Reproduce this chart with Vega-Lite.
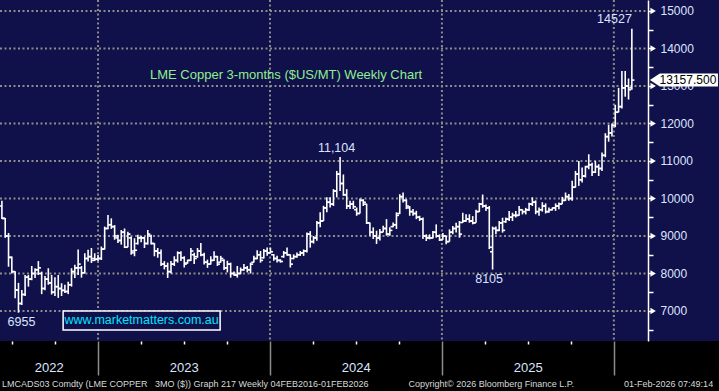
{
"$schema": "https://vega.github.io/schema/vega-lite/v6.json",
"width": 719, "height": 341,
"autosize": "none",
"padding": {"left": 0, "top": 0, "right": 0, "bottom": 50},
"background": "#000000",
"config": {"view": {"fill": "#10104a", "stroke": null}, "text": {"font": "Liberation Sans"}},
"title": {"text": "LMCADS03 Comdty (LME COPPER\u00a0\u00a0\u00a03MO ($)) Graph 217 Weekly 04FEB2016-01FEB2026\u00a0\u00a0\u00a0\u00a0\u00a0\u00a0\u00a0\u00a0\u00a0\u00a0\u00a0\u00a0\u00a0\u00a0\u00a0\u00a0Copyright\u00a9 2026 Bloomberg Finance L.P.\u00a0\u00a0\u00a0\u00a0\u00a0\u00a0\u00a0\u00a0\u00a0\u00a0\u00a0\u00a0\u00a0\u00a0\u00a0\u00a0\u00a0\u00a0\u00a0\u00a001-Feb-2026 07:49:14", "orient": "bottom", "anchor": "start", "frame": "group", "offset": 4, "dx": 2, "color": "#d8d8d8", "font": "Liberation Sans", "fontSize": 9, "fontWeight": "normal"},
"datasets": {
"levels": [{"g":7000},{"g":8000},{"g":9000},{"g":10000},{"g":11000},{"g":12000},{"g":13000},{"g":14000},{"g":15000}],
"dividers": [{"d":"2022-12-30"},{"d":"2023-12-28"},{"d":"2024-12-25"},{"d":"2025-12-23"}],
"notes": [{"d":"2026-01-30","v":14527,"t":"14527"},{"d":"2024-05-24","v":11104,"t":"11,104"},{"d":"2025-04-11","v":8105,"t":"8105"},{"d":"2022-07-15","v":6955,"t":"6955"}],
"last": [{"v":13157.5}],
"ohlc": [
{"d":"2022-06-10","o":9800,"h":9940,"l":9450,"c":9470},
{"d":"2022-06-17","o":9470,"h":9480,"l":8950,"c":9000},
{"d":"2022-06-24","o":9000,"h":9080,"l":8180,"c":8430},
{"d":"2022-07-01","o":8430,"h":8450,"l":8000,"c":8050},
{"d":"2022-07-08","o":8050,"h":8060,"l":7340,"c":7560},
{"d":"2022-07-15","o":7560,"h":7750,"l":6955,"c":7200},
{"d":"2022-07-22","o":7200,"h":7560,"l":7160,"c":7440},
{"d":"2022-07-29","o":7440,"h":7960,"l":7400,"c":7900},
{"d":"2022-08-05","o":7900,"h":7960,"l":7650,"c":7850},
{"d":"2022-08-12","o":7850,"h":8200,"l":7820,"c":8000},
{"d":"2022-08-19","o":8000,"h":8140,"l":7880,"c":8100},
{"d":"2022-08-26","o":8100,"h":8330,"l":7960,"c":8150},
{"d":"2022-09-02","o":8000,"h":8050,"l":7450,"c":7600},
{"d":"2022-09-09","o":7600,"h":7930,"l":7550,"c":7850},
{"d":"2022-09-16","o":7850,"h":8140,"l":7700,"c":7750},
{"d":"2022-09-23","o":7750,"h":7960,"l":7440,"c":7500},
{"d":"2022-09-30","o":7500,"h":7900,"l":7400,"c":7650},
{"d":"2022-10-07","o":7650,"h":7960,"l":7350,"c":7600},
{"d":"2022-10-14","o":7600,"h":7740,"l":7400,"c":7550},
{"d":"2022-10-21","o":7550,"h":7700,"l":7480,"c":7520},
{"d":"2022-10-28","o":7520,"h":7780,"l":7450,"c":7700},
{"d":"2022-11-04","o":7700,"h":8140,"l":7650,"c":8050},
{"d":"2022-11-11","o":8050,"h":8230,"l":7880,"c":8150},
{"d":"2022-11-18","o":8150,"h":8640,"l":7960,"c":8250},
{"d":"2022-11-25","o":8150,"h":8200,"l":7890,"c":8020},
{"d":"2022-12-02","o":8020,"h":8540,"l":8000,"c":8400},
{"d":"2022-12-09","o":8400,"h":8630,"l":8320,"c":8450},
{"d":"2022-12-16","o":8450,"h":8680,"l":8280,"c":8350},
{"d":"2022-12-23","o":8400,"h":8540,"l":8330,"c":8380},
{"d":"2022-12-30","o":8380,"h":8500,"l":8330,"c":8400},
{"d":"2023-01-06","o":8400,"h":8720,"l":8360,"c":8650},
{"d":"2023-01-13","o":8650,"h":9250,"l":8640,"c":9200},
{"d":"2023-01-20","o":9200,"h":9560,"l":9180,"c":9300},
{"d":"2023-01-27","o":9300,"h":9470,"l":9190,"c":9250},
{"d":"2023-02-03","o":9250,"h":9290,"l":8900,"c":9000},
{"d":"2023-02-10","o":8950,"h":9030,"l":8810,"c":8880},
{"d":"2023-02-17","o":8880,"h":9160,"l":8770,"c":9100},
{"d":"2023-02-24","o":9100,"h":9200,"l":8680,"c":8700},
{"d":"2023-03-03","o":8700,"h":9110,"l":8700,"c":9050},
{"d":"2023-03-10","o":8950,"h":8980,"l":8500,"c":8550},
{"d":"2023-03-17","o":8600,"h":8940,"l":8460,"c":8620},
{"d":"2023-03-24","o":8800,"h":9030,"l":8770,"c":8950},
{"d":"2023-03-31","o":8950,"h":9000,"l":8830,"c":8950},
{"d":"2023-04-07","o":8950,"h":8980,"l":8680,"c":8800},
{"d":"2023-04-14","o":8800,"h":9160,"l":8770,"c":9050},
{"d":"2023-04-21","o":9000,"h":9030,"l":8770,"c":8800},
{"d":"2023-04-28","o":8800,"h":8810,"l":8460,"c":8600},
{"d":"2023-05-05","o":8600,"h":8680,"l":8420,"c":8550},
{"d":"2023-05-12","o":8550,"h":8640,"l":8200,"c":8250},
{"d":"2023-05-19","o":8250,"h":8330,"l":8110,"c":8200},
{"d":"2023-05-26","o":8200,"h":8290,"l":7880,"c":8050},
{"d":"2023-06-02","o":8050,"h":8330,"l":8000,"c":8250},
{"d":"2023-06-09","o":8250,"h":8460,"l":8200,"c":8350},
{"d":"2023-06-16","o":8350,"h":8590,"l":8290,"c":8550},
{"d":"2023-06-23","o":8550,"h":8590,"l":8330,"c":8420},
{"d":"2023-06-30","o":8420,"h":8460,"l":8160,"c":8250},
{"d":"2023-07-07","o":8280,"h":8370,"l":8260,"c":8350},
{"d":"2023-07-14","o":8350,"h":8680,"l":8330,"c":8600},
{"d":"2023-07-21","o":8500,"h":8550,"l":8250,"c":8400},
{"d":"2023-07-28","o":8450,"h":8680,"l":8420,"c":8600},
{"d":"2023-08-04","o":8600,"h":8810,"l":8460,"c":8500},
{"d":"2023-08-11","o":8500,"h":8550,"l":8240,"c":8300},
{"d":"2023-08-18","o":8300,"h":8370,"l":8150,"c":8250},
{"d":"2023-08-25","o":8250,"h":8460,"l":8240,"c":8350},
{"d":"2023-09-01","o":8350,"h":8590,"l":8330,"c":8450},
{"d":"2023-09-08","o":8450,"h":8470,"l":8200,"c":8250},
{"d":"2023-09-15","o":8300,"h":8470,"l":8290,"c":8400},
{"d":"2023-09-22","o":8350,"h":8380,"l":8090,"c":8150},
{"d":"2023-09-29","o":8150,"h":8340,"l":8030,"c":8250},
{"d":"2023-10-06","o":8250,"h":8290,"l":7890,"c":8000},
{"d":"2023-10-13","o":8000,"h":8050,"l":7940,"c":7960},
{"d":"2023-10-20","o":7960,"h":8200,"l":7890,"c":8000},
{"d":"2023-10-27","o":8000,"h":8160,"l":7980,"c":8100},
{"d":"2023-11-03","o":8100,"h":8250,"l":8070,"c":8150},
{"d":"2023-11-10","o":8150,"h":8200,"l":8030,"c":8100},
{"d":"2023-11-17","o":8100,"h":8290,"l":8000,"c":8250},
{"d":"2023-11-24","o":8300,"h":8470,"l":8290,"c":8400},
{"d":"2023-12-01","o":8400,"h":8620,"l":8380,"c":8500},
{"d":"2023-12-08","o":8500,"h":8600,"l":8290,"c":8350},
{"d":"2023-12-15","o":8420,"h":8650,"l":8400,"c":8600},
{"d":"2023-12-22","o":8600,"h":8690,"l":8470,"c":8550},
{"d":"2023-12-29","o":8550,"h":8690,"l":8540,"c":8580},
{"d":"2024-01-05","o":8500,"h":8520,"l":8340,"c":8400},
{"d":"2024-01-12","o":8400,"h":8470,"l":8290,"c":8350},
{"d":"2024-01-19","o":8350,"h":8380,"l":8290,"c":8320},
{"d":"2024-01-26","o":8450,"h":8600,"l":8420,"c":8550},
{"d":"2024-02-02","o":8550,"h":8690,"l":8470,"c":8500},
{"d":"2024-02-09","o":8500,"h":8510,"l":8160,"c":8250},
{"d":"2024-02-16","o":8400,"h":8510,"l":8380,"c":8450},
{"d":"2024-02-23","o":8450,"h":8560,"l":8420,"c":8500},
{"d":"2024-03-01","o":8500,"h":8600,"l":8470,"c":8550},
{"d":"2024-03-08","o":8550,"h":8640,"l":8470,"c":8600},
{"d":"2024-03-15","o":8600,"h":9090,"l":8560,"c":9050},
{"d":"2024-03-22","o":9050,"h":9130,"l":8690,"c":8850},
{"d":"2024-03-29","o":8850,"h":9000,"l":8800,"c":8950},
{"d":"2024-04-05","o":8950,"h":9400,"l":8870,"c":9350},
{"d":"2024-04-12","o":9350,"h":9630,"l":9230,"c":9400},
{"d":"2024-04-19","o":9400,"h":9805,"l":9400,"c":9750},
{"d":"2024-04-26","o":9750,"h":10030,"l":9630,"c":9900},
{"d":"2024-05-03","o":9900,"h":10030,"l":9760,"c":9850},
{"d":"2024-05-10","o":9850,"h":10250,"l":9800,"c":10200},
{"d":"2024-05-17","o":10200,"h":10735,"l":10030,"c":10650},
{"d":"2024-05-24","o":10650,"h":11104,"l":10200,"c":10400},
{"d":"2024-05-31","o":10400,"h":10640,"l":10070,"c":10100},
{"d":"2024-06-07","o":10100,"h":10250,"l":9720,"c":9800},
{"d":"2024-06-14","o":9800,"h":9940,"l":9720,"c":9850},
{"d":"2024-06-21","o":9850,"h":9940,"l":9720,"c":9780},
{"d":"2024-06-28","o":9700,"h":9760,"l":9540,"c":9600},
{"d":"2024-07-05","o":9600,"h":10000,"l":9600,"c":9950},
{"d":"2024-07-12","o":9950,"h":9980,"l":9800,"c":9900},
{"d":"2024-07-19","o":9850,"h":9860,"l":9320,"c":9350},
{"d":"2024-07-26","o":9350,"h":9363,"l":9009,"c":9100},
{"d":"2024-08-02","o":9100,"h":9230,"l":8920,"c":9000},
{"d":"2024-08-09","o":9000,"h":9141,"l":8788,"c":8950},
{"d":"2024-08-16","o":8950,"h":9186,"l":8880,"c":9100},
{"d":"2024-08-23","o":9100,"h":9270,"l":9100,"c":9200},
{"d":"2024-08-30","o":9200,"h":9450,"l":9009,"c":9050},
{"d":"2024-09-06","o":9050,"h":9230,"l":9009,"c":9150},
{"d":"2024-09-13","o":9250,"h":9363,"l":9230,"c":9300},
{"d":"2024-09-20","o":9300,"h":9630,"l":9186,"c":9550},
{"d":"2024-09-27","o":9600,"h":10115,"l":9584,"c":10050},
{"d":"2024-10-04","o":10050,"h":10160,"l":9894,"c":9950},
{"d":"2024-10-11","o":9950,"h":9980,"l":9717,"c":9800},
{"d":"2024-10-18","o":9750,"h":9800,"l":9540,"c":9650},
{"d":"2024-10-25","o":9650,"h":9717,"l":9540,"c":9600},
{"d":"2024-11-01","o":9600,"h":9672,"l":9450,"c":9500},
{"d":"2024-11-08","o":9500,"h":9540,"l":9400,"c":9450},
{"d":"2024-11-15","o":9450,"h":9495,"l":8920,"c":9000},
{"d":"2024-11-22","o":9000,"h":9044,"l":8867,"c":8950},
{"d":"2024-11-29","o":8950,"h":9044,"l":8910,"c":8950},
{"d":"2024-12-06","o":8950,"h":9130,"l":8930,"c":9100},
{"d":"2024-12-13","o":9100,"h":9310,"l":8956,"c":9000},
{"d":"2024-12-20","o":9000,"h":9044,"l":8867,"c":8900},
{"d":"2024-12-27","o":8900,"h":9080,"l":8900,"c":9000},
{"d":"2025-01-03","o":9000,"h":9000,"l":8780,"c":8850},
{"d":"2025-01-10","o":8850,"h":9177,"l":8850,"c":9100},
{"d":"2025-01-17","o":9100,"h":9265,"l":9044,"c":9200},
{"d":"2025-01-24","o":9200,"h":9354,"l":9090,"c":9250},
{"d":"2025-01-31","o":9250,"h":9400,"l":8956,"c":9050},
{"d":"2025-02-07","o":9360,"h":9620,"l":9350,"c":9400},
{"d":"2025-02-14","o":9400,"h":9580,"l":9380,"c":9450},
{"d":"2025-02-21","o":9450,"h":9580,"l":9354,"c":9400},
{"d":"2025-02-28","o":9400,"h":9530,"l":9310,"c":9350},
{"d":"2025-03-07","o":9350,"h":9700,"l":9350,"c":9650},
{"d":"2025-03-14","o":9650,"h":9885,"l":9640,"c":9850},
{"d":"2025-03-21","o":9850,"h":10106,"l":9752,"c":9800},
{"d":"2025-03-28","o":9800,"h":9840,"l":9664,"c":9750},
{"d":"2025-04-04","o":9750,"h":9800,"l":8650,"c":8700},
{"d":"2025-04-11","o":8580,"h":9250,"l":8105,"c":9200},
{"d":"2025-04-18","o":9200,"h":9250,"l":9044,"c":9150},
{"d":"2025-04-25","o":9150,"h":9400,"l":9130,"c":9350},
{"d":"2025-05-02","o":9350,"h":9487,"l":9090,"c":9150},
{"d":"2025-05-09","o":9380,"h":9490,"l":9350,"c":9450},
{"d":"2025-05-16","o":9450,"h":9664,"l":9400,"c":9500},
{"d":"2025-05-23","o":9500,"h":9620,"l":9400,"c":9550},
{"d":"2025-05-30","o":9550,"h":9664,"l":9490,"c":9550},
{"d":"2025-06-06","o":9550,"h":9800,"l":9540,"c":9700},
{"d":"2025-06-13","o":9700,"h":9710,"l":9575,"c":9650},
{"d":"2025-06-20","o":9650,"h":9750,"l":9575,"c":9700},
{"d":"2025-06-27","o":9700,"h":9885,"l":9664,"c":9850},
{"d":"2025-07-04","o":9850,"h":10030,"l":9800,"c":9900},
{"d":"2025-07-11","o":9900,"h":9950,"l":9580,"c":9650},
{"d":"2025-07-18","o":9650,"h":9760,"l":9540,"c":9700},
{"d":"2025-07-25","o":9700,"h":9900,"l":9650,"c":9800},
{"d":"2025-08-01","o":9800,"h":9870,"l":9600,"c":9650},
{"d":"2025-08-08","o":9650,"h":9760,"l":9620,"c":9700},
{"d":"2025-08-15","o":9700,"h":9760,"l":9680,"c":9750},
{"d":"2025-08-22","o":9750,"h":9870,"l":9670,"c":9800},
{"d":"2025-08-29","o":9800,"h":9890,"l":9710,"c":9850},
{"d":"2025-09-05","o":9850,"h":10044,"l":9850,"c":9950},
{"d":"2025-09-12","o":9950,"h":10160,"l":9938,"c":10050},
{"d":"2025-09-19","o":10050,"h":10120,"l":9938,"c":10000},
{"d":"2025-09-26","o":10000,"h":10470,"l":9940,"c":10300},
{"d":"2025-10-03","o":10300,"h":10736,"l":10290,"c":10650},
{"d":"2025-10-10","o":10650,"h":11000,"l":10337,"c":10500},
{"d":"2025-10-17","o":10500,"h":10825,"l":10426,"c":10600},
{"d":"2025-10-24","o":10600,"h":10870,"l":10560,"c":10850},
{"d":"2025-10-31","o":10850,"h":11180,"l":10780,"c":10900},
{"d":"2025-11-07","o":10900,"h":10950,"l":10600,"c":10700},
{"d":"2025-11-14","o":10700,"h":11000,"l":10680,"c":10850},
{"d":"2025-11-21","o":10850,"h":10914,"l":10600,"c":10800},
{"d":"2025-11-28","o":10800,"h":11224,"l":10736,"c":11150},
{"d":"2025-12-05","o":11150,"h":11740,"l":11100,"c":11650},
{"d":"2025-12-12","o":11650,"h":11966,"l":11515,"c":11750},
{"d":"2025-12-19","o":11750,"h":12000,"l":11650,"c":11950},
{"d":"2025-12-26","o":11950,"h":12500,"l":11900,"c":12300},
{"d":"2026-01-02","o":12300,"h":12950,"l":12300,"c":12450},
{"d":"2026-01-09","o":12450,"h":13400,"l":12400,"c":12950},
{"d":"2026-01-16","o":12950,"h":13400,"l":12715,"c":13000},
{"d":"2026-01-23","o":13000,"h":13200,"l":12640,"c":12900},
{"d":"2026-01-30","o":12950,"h":14527,"l":12900,"c":13157.5}
]
},
"layer": [
{"data": {"name": "levels"},
 "mark": {"type": "rule", "color": "#8c8c8c", "strokeWidth": 2, "strokeDash": [2, 2.5]},
 "encoding": {
  "y": {"field": "g", "type": "quantitative", "scale": {"domain": [6200, 15293], "nice": false, "zero": false},
        "axis": {"orient": "right", "offset": -71, "title": null, "values": [7000,8000,9000,10000,11000,12000,13000,14000,15000],
                 "format": "d", "grid": false,
                 "domainColor": "#ffffff", "domainWidth": 1.5, "tickColor": "#ffffff", "tickWidth": 1.5, "tickSize": 5,
                 "labelPadding": 7, "labelColor": "#dde4ff", "labelFont": "Liberation Sans", "labelFontSize": 12, "labelBaseline": "middle", "labelAlign": "left", "labelOverlap": false, "labelBound": false, "labelFlush": false}},
  "x": {"datum": {"year": 2022, "month": 6, "date": 6, "utc": true}, "type": "temporal", "scale": {"type": "utc", "domain": [{"year": 2022, "month": 6, "date": 6, "utc": true}, {"year": 2026, "month": 8, "date": 2, "utc": true}]}, "axis": null},
  "x2": {"datum": {"year": 2026, "month": 3, "date": 5, "utc": true}}
 }},
{"data": {"name": "dividers"},
 "mark": {"type": "rule", "color": "#8c8c8c", "strokeWidth": 2, "strokeDash": [2, 2.5]},
 "encoding": {
  "x": {"field": "d", "type": "temporal", "scale": {"type": "utc", "domain": [{"year": 2022, "month": 6, "date": 6, "utc": true}, {"year": 2026, "month": 8, "date": 2, "utc": true}]},
        "axis": {"orient": "bottom", "title": null, "values": [{"year": 2022, "month": 12, "date": 30, "utc": true}, {"year": 2023, "month": 12, "date": 28, "utc": true}, {"year": 2024, "month": 12, "date": 25, "utc": true}, {"year": 2025, "month": 12, "date": 23, "utc": true}],
                 "labels": false, "domain": false, "grid": false, "ticks": true, "tickSize": 34, "tickColor": "#8c8c8c", "tickWidth": 1.5}}
 }},
{"data": {"name": "ohlc"},
 "mark": {"type": "rule", "color": "#ffffff", "strokeWidth": 1.6},
 "encoding": {
  "x": {"field": "d", "type": "temporal", "scale": {"type": "utc", "domain": [{"year": 2022, "month": 6, "date": 6, "utc": true}, {"year": 2026, "month": 8, "date": 2, "utc": true}]},
        "axis": {"orient": "bottom", "title": null, "values": [{"year": 2022, "month": 9, "date": 17, "utc": true}, {"year": 2023, "month": 6, "date": 29, "utc": true}, {"year": 2024, "month": 6, "date": 26, "utc": true}, {"year": 2025, "month": 6, "date": 24, "utc": true}],
                 "labelExpr": "utcFormat(datum.value, '%Y')", "ticks": false, "tickSize": 0, "domain": false, "grid": false, "labelPadding": 20,
                 "labelColor": "#dde4ff", "labelFont": "Liberation Sans", "labelFontSize": 13, "labelFlush": false, "labelOverlap": false, "labelBound": false}},
  "y": {"field": "l", "type": "quantitative", "scale": {"domain": [6200, 15293], "nice": false, "zero": false}, "axis": null},
  "y2": {"field": "h"}
 }},
{"data": {"name": "ohlc"},
 "mark": {"type": "tick", "orient": "horizontal", "color": "#ffffff", "size": 2.6, "thickness": 1.6, "xOffset": -1.3, "opacity": 1},
 "encoding": {
  "x": {"field": "d", "type": "temporal", "scale": {"type": "utc", "domain": [{"year": 2022, "month": 6, "date": 6, "utc": true}, {"year": 2026, "month": 8, "date": 2, "utc": true}]}, "axis": null},
  "y": {"field": "o", "type": "quantitative", "scale": {"domain": [6200, 15293], "nice": false, "zero": false}, "axis": null}
 }},
{"data": {"name": "ohlc"},
 "mark": {"type": "tick", "orient": "horizontal", "color": "#ffffff", "size": 2.6, "thickness": 1.6, "xOffset": 1.3, "opacity": 1},
 "encoding": {
  "x": {"field": "d", "type": "temporal", "scale": {"type": "utc", "domain": [{"year": 2022, "month": 6, "date": 6, "utc": true}, {"year": 2026, "month": 8, "date": 2, "utc": true}]}, "axis": null},
  "y": {"field": "c", "type": "quantitative", "scale": {"domain": [6200, 15293], "nice": false, "zero": false}, "axis": null}
 }},
{"data": {"name": "levels"},
 "mark": {"type": "point", "shape": "triangle-right", "filled": true, "color": "#ffffff", "size": 40, "opacity": 1},
 "encoding": {
  "x": {"datum": {"year": 2026, "month": 3, "date": 16, "utc": true}, "type": "temporal", "scale": {"type": "utc", "domain": [{"year": 2022, "month": 6, "date": 6, "utc": true}, {"year": 2026, "month": 8, "date": 2, "utc": true}]}, "axis": null},
  "y": {"field": "g", "type": "quantitative", "scale": {"domain": [6200, 15293], "nice": false, "zero": false},
        "axis": {"orient": "right", "offset": -71, "title": null, "values": [6500,7500,8500,9500,10500,11500,12500,13500,14500],
                 "labels": false, "domain": false, "grid": false, "ticks": true, "tickColor": "#ffffff", "tickWidth": 1.5, "tickSize": 5}}
 }},
{"data": {"name": "notes"},
 "transform": [{"filter": "datum.v == 14527"}],
 "mark": {"type": "text", "align": "right", "baseline": "alphabetic", "dx": 0, "dy": -6, "color": "#dde4ff", "fontSize": 12.5, "font": "Liberation Sans"},
 "encoding": {
  "x": {"field": "d", "type": "temporal", "scale": {"type": "utc", "domain": [{"year": 2022, "month": 6, "date": 6, "utc": true}, {"year": 2026, "month": 8, "date": 2, "utc": true}]}, "axis": null},
  "y": {"field": "v", "type": "quantitative", "scale": {"domain": [6200, 15293], "nice": false, "zero": false}, "axis": null},
  "text": {"field": "t"}
 }},
{"data": {"name": "notes"},
 "transform": [{"filter": "datum.v == 11104"}],
 "mark": {"type": "text", "align": "center", "baseline": "alphabetic", "dx": -3.5, "dy": -5.4, "color": "#dde4ff", "fontSize": 12.5, "font": "Liberation Sans"},
 "encoding": {
  "x": {"field": "d", "type": "temporal", "scale": {"type": "utc", "domain": [{"year": 2022, "month": 6, "date": 6, "utc": true}, {"year": 2026, "month": 8, "date": 2, "utc": true}]}, "axis": null},
  "y": {"field": "v", "type": "quantitative", "scale": {"domain": [6200, 15293], "nice": false, "zero": false}, "axis": null},
  "text": {"field": "t"}
 }},
{"data": {"name": "notes"},
 "transform": [{"filter": "datum.v == 8105"}],
 "mark": {"type": "text", "align": "center", "baseline": "top", "dx": -3.5, "dy": 3.5, "color": "#dde4ff", "fontSize": 12.5, "font": "Liberation Sans"},
 "encoding": {
  "x": {"field": "d", "type": "temporal", "scale": {"type": "utc", "domain": [{"year": 2022, "month": 6, "date": 6, "utc": true}, {"year": 2026, "month": 8, "date": 2, "utc": true}]}, "axis": null},
  "y": {"field": "v", "type": "quantitative", "scale": {"domain": [6200, 15293], "nice": false, "zero": false}, "axis": null},
  "text": {"field": "t"}
 }},
{"data": {"name": "notes"},
 "transform": [{"filter": "datum.v == 6955"}],
 "mark": {"type": "text", "align": "center", "baseline": "top", "dx": 3, "dy": 3, "color": "#dde4ff", "fontSize": 12.5, "font": "Liberation Sans"},
 "encoding": {
  "x": {"field": "d", "type": "temporal", "scale": {"type": "utc", "domain": [{"year": 2022, "month": 6, "date": 6, "utc": true}, {"year": 2026, "month": 8, "date": 2, "utc": true}]},
        "axis": {"orient": "bottom", "title": null, "values": [{"year": 2022, "month": 7, "date": 1, "utc": true}, {"year": 2022, "month": 9, "date": 30, "utc": true}, {"year": 2023, "month": 3, "date": 30, "utc": true}, {"year": 2023, "month": 6, "date": 29, "utc": true}, {"year": 2023, "month": 9, "date": 28, "utc": true}, {"year": 2024, "month": 3, "date": 27, "utc": true}, {"year": 2024, "month": 6, "date": 26, "utc": true}, {"year": 2024, "month": 9, "date": 25, "utc": true}, {"year": 2025, "month": 3, "date": 26, "utc": true}, {"year": 2025, "month": 6, "date": 24, "utc": true}, {"year": 2025, "month": 9, "date": 23, "utc": true}],
                 "labels": false, "domain": false, "grid": false, "ticks": true, "tickSize": 3, "tickColor": "#ffffff", "tickWidth": 1.5}},
  "y": {"field": "v", "type": "quantitative", "scale": {"domain": [6200, 15293], "nice": false, "zero": false}, "axis": null},
  "text": {"field": "t"}
 }},
{"data": {"values": [{"t": "LME Copper 3-months ($US/MT) Weekly Chart"}]},
 "mark": {"type": "text", "align": "center", "baseline": "middle", "color": "#90ee90", "fontSize": 13, "font": "Liberation Sans"},
 "encoding": {
  "x": {"datum": {"year": 2024, "month": 1, "date": 31, "utc": true}, "type": "temporal", "scale": {"type": "utc", "domain": [{"year": 2022, "month": 6, "date": 6, "utc": true}, {"year": 2026, "month": 8, "date": 2, "utc": true}]}, "axis": null},
  "y": {"datum": 13293, "type": "quantitative", "scale": {"domain": [6200, 15293], "nice": false, "zero": false}, "axis": null},
  "text": {"field": "t"}
 }},
{"data": {"values": [{"t": "www.marketmatters.com.au"}]},
 "mark": {"type": "point", "shape": "M-1,-0.121L1,-0.121L1,0.121L-1,0.121Z", "size": 24649, "filled": false, "fill": "#10104a", "fillOpacity": 1, "stroke": "#ffffff", "strokeWidth": 1.5, "opacity": 1},
 "encoding": {
  "x": {"datum": {"year": 2023, "month": 4, "date": 1, "utc": true}, "type": "temporal", "scale": {"type": "utc", "domain": [{"year": 2022, "month": 6, "date": 6, "utc": true}, {"year": 2026, "month": 8, "date": 2, "utc": true}]}, "axis": null},
  "y": {"datum": 6747, "type": "quantitative", "scale": {"domain": [6200, 15293], "nice": false, "zero": false}, "axis": null}
 }},
{"data": {"values": [{"t": "www.marketmatters.com.au"}]},
 "mark": {"type": "text", "align": "center", "baseline": "middle", "color": "#00e5ff", "fontSize": 12.5, "font": "Liberation Sans"},
 "encoding": {
  "x": {"datum": {"year": 2023, "month": 4, "date": 1, "utc": true}, "type": "temporal", "scale": {"type": "utc", "domain": [{"year": 2022, "month": 6, "date": 6, "utc": true}, {"year": 2026, "month": 8, "date": 2, "utc": true}]}, "axis": null},
  "y": {"datum": 6747, "type": "quantitative", "scale": {"domain": [6200, 15293], "nice": false, "zero": false}, "axis": null},
  "text": {"field": "t"}
 }},
{"data": {"name": "last"},
 "mark": {"type": "point", "shape": "M-1,0L-0.71,-0.19L1,-0.19L1,0.19L-0.71,0.19Z", "size": 4624, "filled": true, "color": "#ffffff", "opacity": 1},
 "encoding": {
  "x": {"datum": {"year": 2026, "month": 5, "date": 20, "utc": true}, "type": "temporal", "scale": {"type": "utc", "domain": [{"year": 2022, "month": 6, "date": 6, "utc": true}, {"year": 2026, "month": 8, "date": 2, "utc": true}]}, "axis": null},
  "y": {"field": "v", "type": "quantitative", "scale": {"domain": [6200, 15293], "nice": false, "zero": false}, "axis": null}
 }},
{"data": {"name": "last"},
 "mark": {"type": "text", "align": "center", "baseline": "middle", "dx": 4, "color": "#000000", "fontSize": 12, "font": "Liberation Sans"},
 "encoding": {
  "x": {"datum": {"year": 2026, "month": 5, "date": 20, "utc": true}, "type": "temporal", "scale": {"type": "utc", "domain": [{"year": 2022, "month": 6, "date": 6, "utc": true}, {"year": 2026, "month": 8, "date": 2, "utc": true}]}, "axis": null},
  "y": {"field": "v", "type": "quantitative", "scale": {"domain": [6200, 15293], "nice": false, "zero": false}, "axis": null},
  "text": {"field": "v", "format": ".3f"}
 }}
],
"resolve": {"axis": {"x": "independent", "y": "independent"}}
}
